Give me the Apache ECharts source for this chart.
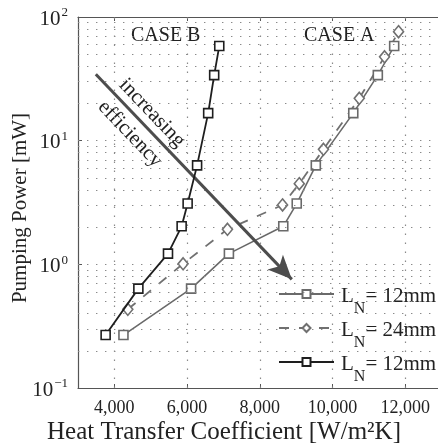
<!DOCTYPE html>
<html><head><meta charset="utf-8">
<script src="https://cdn.jsdelivr.net/npm/echarts@6/dist/echarts.min.js"></script>
<style>html,body{margin:0;padding:0;background:#fff}#c{width:438px;height:445px}</style>
</head><body><div id="c"></div>
<script>
// ---- data ----
const caseB12_x = [3760, 4660, 5475, 5850, 6015, 6275, 6580, 6745, 6885];
const caseB12_y = [0.268, 0.636, 1.22, 2.03, 3.10, 6.31, 16.7, 33.9, 58.2];
const caseA12_x = [4250, 6110, 7150, 8645, 9015, 9540, 10570, 11245, 11695];
const caseA12_y = [0.268, 0.636, 1.22, 2.03, 3.10, 6.31, 16.7, 33.9, 58.2];
const caseA24_x = [4370, 5890, 7110, 8625, 9085, 9750, 10735, 11430, 11815];
const caseA24_y = [0.433, 1.01, 1.92, 3.02, 4.49, 8.51, 22.0, 47.7, 76.1];
const xTickValues = [4000, 6000, 8000, 10000, 12000];
const yGridValues = [0.2,0.3,0.4,0.5,0.6,0.7,0.8,0.9,1,2,3,4,5,6,7,8,9,10,20,30,40,50,60,70,80,90];
const arrowStart = [3490, 34.4];
const arrowEnd = [8880, 0.756];
const legendLabels = {A12: '12mm', A24: '24mm', B12: '12mm'};

const FONT = "'Liberation Serif','DejaVu Serif',serif";
const TXT = '#222';
const zip = (xs, ys) => xs.map((x, i) => [x, ys[i]]);
const dotted = {color: '#8a8a8a', width: 1.2, type: [1.4, 7.6]};

const chart = echarts.init(document.getElementById('c'), null, {renderer: 'canvas'});
chart.setOption({
  animation: false,
  backgroundColor: '#fff',
  grid: {left: 78, top: 17, right: 0, bottom: 57, containLabel: false, outerBoundsMode: 'none'},
  xAxis: [{
    type: 'value', min: 3000, max: 12900, position: 'bottom',
    axisLine: {show: true, lineStyle: {color: '#555', width: 1.2}},
    axisTick: {show: true, inside: true, length: 4, customValues: xTickValues, lineStyle: {color: '#555'}},
    axisLabel: {customValues: xTickValues, margin: 11, fontFamily: FONT, fontSize: 18, color: TXT,
      formatter: v => v.toLocaleString('en-US')},
    splitLine: {show: false}
  }, {
    type: 'value', min: 3000, max: 12900, position: 'top',
    axisLine: {show: true, lineStyle: {color: '#555', width: 1.2}},
    axisTick: {show: true, inside: true, length: 4, customValues: xTickValues, lineStyle: {color: '#555'}},
    axisLabel: {show: false}, splitLine: {show: false}
  }],
  yAxis: {
    type: 'log', logBase: 10, min: 0.1, max: 100,
    axisLine: {show: true, lineStyle: {color: '#555', width: 1.2}},
    axisTick: {show: true, inside: true, length: 4, lineStyle: {color: '#555'}},
    minorTick: {show: false},
    splitLine: {show: false},
    axisLabel: {
      margin: 10, fontFamily: FONT, color: TXT,
      formatter: v => '{b|10}{s|' + String(Math.round(Math.log10(v))).replace('-', '\u2212') + '}',
      rich: {
        b: {fontFamily: FONT, fontSize: 21, color: TXT, padding: [4, 0, 0, 0]},
        s: {fontFamily: FONT, fontSize: 13, color: TXT, verticalAlign: 'bottom', padding: [0, 0, 10, 1]}
      }
    }
  },
  legend: {
    orient: 'vertical', left: 273, top: 278, itemWidth: 55, itemHeight: 10, itemGap: 0,
    data: ['A12', 'A24', 'B12'],
    formatter: n => '{l|L}{n|N}{r|= ' + legendLabels[n] + '}',
    textStyle: {
      fontFamily: FONT, color: TXT,
      rich: {
        l: {fontFamily: FONT, fontSize: 21, lineHeight: 22, color: TXT, verticalAlign: 'top', padding: [3, 0, 9, 2]},
        n: {fontFamily: FONT, fontSize: 16, lineHeight: 16, color: TXT, verticalAlign: 'top', padding: [18, 0, 0, 0]},
        r: {fontFamily: FONT, fontSize: 21, lineHeight: 22, color: TXT, verticalAlign: 'top', padding: [3, 0, 9, 0]}
      }
    }
  },
  graphic: [
    {type: 'text', x: 20, y: 208, rotation: Math.PI / 2, style: {text: 'Pumping Power [mW]', font: "21px 'Liberation Serif'", fill: TXT, align: 'center', verticalAlign: 'middle'}},
    {type: 'text', x: 224, y: 432, style: {text: 'Heat Transfer Coefficient [W/m²K]', font: "25px 'Liberation Serif'", fill: TXT, align: 'center', verticalAlign: 'middle'}},
    {type: 'text', left: 131, top: 26, style: {text: 'CASE B', font: "20px 'Liberation Serif'", fill: TXT}},
    {type: 'text', left: 304, top: 26, style: {text: 'CASE A', font: "20px 'Liberation Serif'", fill: TXT}},
    {type: 'text', x: 152, y: 113, rotation: -0.81, style: {text: 'increasing', font: "21px 'Liberation Serif'", fill: TXT, align: 'center', verticalAlign: 'middle'}},
    {type: 'text', x: 130, y: 134, rotation: -0.81, style: {text: 'efficiency', font: "21px 'Liberation Serif'", fill: TXT, align: 'center', verticalAlign: 'middle'}}
  ],
  series: [
    {
      type: 'line', name: 'grid', data: [], z: 1, silent: true,
      markLine: {
        silent: true, symbol: ['none', 'none'], label: {show: false}, animation: false,
        lineStyle: dotted, emphasis: {disabled: true},
        data: [...xTickValues.map(v => ({xAxis: v})), ...yGridValues.map(v => ({yAxis: v}))]
      }
    },
    {
      type: 'line', name: 'arrow', data: [], z: 3, silent: true,
      markLine: {
        silent: true, symbol: ['none', 'arrow'], symbolSize: [16, 24], label: {show: false}, animation: false,
        lineStyle: {color: '#4d4d4d', width: 3, type: 'solid'}, emphasis: {disabled: true},
        data: [[{coord: arrowStart}, {coord: arrowEnd}]]
      }
    },
    {
      type: 'line', name: 'A12', data: zip(caseA12_x, caseA12_y), z: 4,
      symbol: 'rect', symbolSize: 9,
      lineStyle: {color: '#6a6a6a', width: 1.6},
      itemStyle: {color: '#fff', borderColor: '#6a6a6a', borderWidth: 1.6}
    },
    {
      type: 'line', name: 'A24', data: zip(caseA24_x, caseA24_y), z: 4,
      symbol: 'diamond', symbolSize: [10, 12],
      lineStyle: {color: '#707070', width: 1.8, type: [10, 10]},
      itemStyle: {color: '#fff', borderColor: '#707070', borderWidth: 1.6}
    },
    {
      type: 'line', name: 'B12', data: zip(caseB12_x, caseB12_y), z: 5,
      symbol: 'rect', symbolSize: 9,
      lineStyle: {color: '#1e1e1e', width: 1.8},
      itemStyle: {color: '#fff', borderColor: '#1e1e1e', borderWidth: 1.6}
    }
  ]
});
</script></body></html>
